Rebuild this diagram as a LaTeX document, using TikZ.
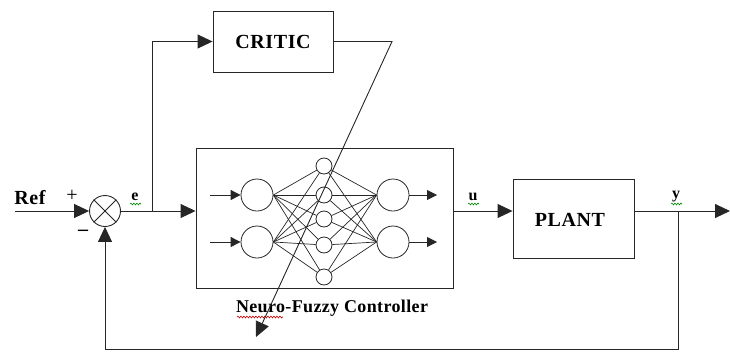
\documentclass[tikz,border=0pt]{standalone}
\usepackage{fontspec}
\setmainfont{Liberation Serif}
\usetikzlibrary{arrows.meta,decorations.pathmorphing}
\begin{document}
\begin{tikzpicture}[x=1pt,y=-1pt,
  wire/.style={draw=black!85, line width=0.9pt},
  bigarrow/.style={wire,-{Triangle[length=15pt,width=14pt]}},
  smallarrow/.style={wire,-{Triangle[length=10pt,width=10pt]}},
  blockbox/.style={draw=black!85, line width=0.9pt, rectangle, inner sep=0pt},
  neuron/.style={draw=black!85, line width=0.8pt, circle, inner sep=0pt, minimum size=32pt},
  hid/.style={draw=black!85, line width=0.8pt, circle, inner sep=0pt, minimum size=16pt},
  link/.style={draw=black!85, line width=0.7pt},
  lbl/.style={font=\bfseries\fontsize{20}{22}\selectfont\addfontfeature{LetterSpace=3}, inner sep=0pt},
  slbl/.style={font=\bfseries\fontsize{16}{16}\selectfont, inner sep=0pt},
  squig/.style={decorate, decoration={snake, amplitude=0.9pt, segment length=3pt}, line width=0.6pt}
]
\useasboundingbox (0,0) rectangle (730,351);
% blocks
\node[blockbox, minimum width=120pt, minimum height=61pt] (critic) at (273,41.5) {};
\node[lbl] (critict) at (273,42) {CRITIC};
\node[blockbox, minimum width=257pt, minimum height=140pt] (nf) at (324.5,218) {};
\node[blockbox, minimum width=121pt, minimum height=79pt] (plant) at (573.5,218.5) {};
\node[lbl] (plantt) at (570,220) {PLANT};
\node[draw=black!85, line width=0.9pt, circle, minimum size=31pt, inner sep=0pt] (sum) at (105,211) {};
\draw[wire] (sum.north east) -- (sum.south west) (sum.north west) -- (sum.south east);
% labels
\node[lbl] (ref) at (30,198) {Ref};
\node[font=\fontsize{20}{20}\selectfont, inner sep=0pt] (plus) at (72,196) {+};
\node[font=\bfseries\fontsize{20}{20}\selectfont, inner sep=0pt] (minus) at (83,233) {\textendash};
\node[slbl] (elbl) at (135,197) {e};
\node[slbl] (ulbl) at (473,197) {u};
\node[slbl] (ylbl) at (676,197) {y};
\node[font=\bfseries\fontsize{18}{19}\selectfont\addfontfeature{LetterSpace=2}, inner sep=0pt] (nfl) at (332,308) {Neuro-Fuzzy Controller};
% squiggles
\draw[squig, draw=green!55!black] (130,204) -- (141,204);
\draw[squig, draw=green!55!black] (468,204) -- (479,204);
\draw[squig, draw=green!55!black] (671,204) -- (682,204);
\draw[squig, draw=red!80!black] (237,317) -- (283,317);
% coordinates
\coordinate (refin) at (15,211);
\coordinate (eb) at (152,211);
\coordinate (ec) at (152,41.5);
\coordinate (yb) at (678,211);
\coordinate (yout) at (730,211);
\coordinate (fb1) at (678,349);
\coordinate (fb2) at (105,349);
\coordinate (cr1) at (392,41.5);
\coordinate (cr2) at (256,337);
% main path
\draw[bigarrow] (refin) -- (sum.west);
\draw[bigarrow] (sum.east) -- (nf.west |- sum.east);
\draw[bigarrow] (eb) -- (ec) -- (critic.west);
\draw[bigarrow] (nf.east |- sum.east) -- (plant.west |- sum.east);
\draw[bigarrow] (plant.east |- sum.east) -- (yout);
\draw[bigarrow] (yb) -- (fb1) -- (fb2) -- (sum.south);
\draw[bigarrow] (critic.east) -- (cr1) -- (cr2);
% network
\node[neuron] (i1) at (257,195) {};
\node[neuron] (i2) at (257,242) {};
\node[neuron] (o1) at (393,195) {};
\node[neuron] (o2) at (393,242) {};
\foreach \n/\yy in {1/166,2/195,3/219,4/245,5/277}{
  \node[hid] (h\n) at (324,\yy) {};
}
\foreach \i in {1,2}{
  \foreach \n in {1,...,5}{
    \draw[link] (i\i.east) -- (h\n);
    \draw[link] (h\n) -- (o\i.west);
  }
}
\coordinate (ia1) at (210,195);
\coordinate (ia2) at (210,242);
\coordinate (oa1) at (437,195);
\coordinate (oa2) at (437,242);
\draw[smallarrow] (ia1) -- (i1);
\draw[smallarrow] (ia2) -- (i2);
\draw[smallarrow] (o1) -- (oa1);
\draw[smallarrow] (o2) -- (oa2);
\end{tikzpicture}
\end{document}
